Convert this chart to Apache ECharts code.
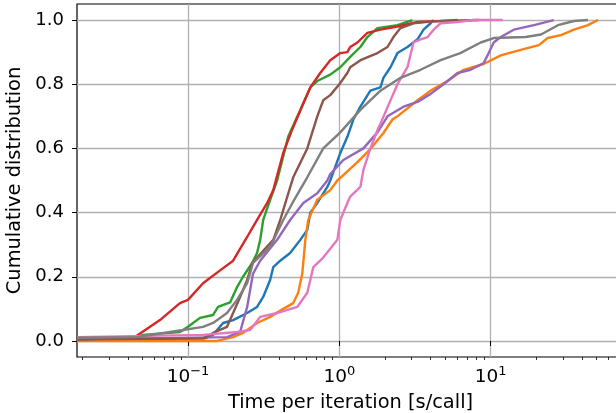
<!DOCTYPE html>
<html>
<head>
<meta charset="utf-8">
<script src="https://cdn.jsdelivr.net/npm/echarts@6/dist/echarts.min.js"></script>
<style>html,body{margin:0;padding:0;background:#fff;overflow:hidden;}#c{width:616px;height:413px;}</style>
</head>
<body>
<div id="c"></div>
<script>
// ---- data (x in s/call, y = cumulative fraction) ----
const seriesNames = ['blue', 'orange', 'green', 'red', 'purple', 'brown', 'pink', 'gray'];
const colors = ['#1f77b4', '#ff7f0e', '#2ca02c', '#d62728', '#9467bd', '#8c564b', '#e377c2', '#7f7f7f'];

const blueData = [[0.0185,0.005],[0.13,0.008],[0.1465,0.019],[0.1706,0.056],[0.1987,0.065],[0.246,0.087],[0.286,0.106],[0.314,0.137],[0.349,0.19],[0.366,0.23],[0.407,0.25],[0.473,0.274],[0.552,0.315],[0.614,0.346],[0.643,0.4],[0.715,0.43],[0.833,0.48],[0.871,0.5],[1.015,0.586],[1.13,0.636],[1.238,0.69],[1.377,0.73],[1.604,0.78],[1.869,0.79],[1.955,0.82],[2.177,0.853],[2.421,0.897],[2.82,0.916],[3.285,0.94],[3.6,0.97],[4.01,0.99],[4.2,1.0]];
const orangeData = [[0.0185,0.0],[0.1556,0.0],[0.1987,0.012],[0.231,0.025],[0.286,0.056],[0.349,0.075],[0.426,0.1],[0.496,0.118],[0.535,0.15],[0.569,0.21],[0.596,0.315],[0.623,0.377],[0.715,0.44],[0.871,0.47],[0.97,0.5],[1.063,0.517],[1.316,0.557],[1.604,0.598],[1.955,0.648],[2.244,0.69],[2.421,0.7],[3.285,0.75],[4.01,0.78],[5.19,0.81],[6.63,0.845],[8.99,0.863],[11.65,0.89],[15.8,0.907],[20.8,0.922],[23.8,0.944],[29.1,0.953],[35.5,0.97],[43.9,0.984],[51.2,1.0]];
const greenData = [[0.0185,0.005],[0.0459,0.01],[0.0504,0.019],[0.0885,0.028],[0.1,0.044],[0.12,0.072],[0.1465,0.081],[0.158,0.106],[0.1897,0.12],[0.211,0.168],[0.231,0.2],[0.2655,0.243],[0.286,0.274],[0.3,0.315],[0.314,0.377],[0.349,0.44],[0.388,0.5],[0.459,0.636],[0.552,0.72],[0.643,0.79],[0.715,0.81],[0.871,0.83],[1.015,0.853],[1.18,0.885],[1.377,0.916],[1.532,0.947],[1.786,0.975],[2.421,0.984],[3.04,1.0]];
const redData = [[0.0185,0.005],[0.0355,0.008],[0.0446,0.012],[0.0653,0.065],[0.0885,0.118],[0.1,0.128],[0.1257,0.18],[0.163,0.22],[0.1987,0.25],[0.246,0.324],[0.286,0.377],[0.334,0.43],[0.366,0.47],[0.426,0.586],[0.489,0.66],[0.578,0.74],[0.643,0.79],[0.748,0.835],[0.871,0.875],[1.015,0.897],[1.13,0.9],[1.18,0.916],[1.316,0.93],[1.532,0.96],[1.869,0.97],[2.421,0.98],[3.285,0.994],[4.01,0.996],[8.33,1.0]];
const purpleData = [[0.0185,0.005],[0.181,0.012],[0.221,0.028],[0.246,0.106],[0.269,0.21],[0.3,0.25],[0.388,0.315],[0.473,0.377],[0.578,0.43],[0.715,0.46],[0.833,0.5],[0.871,0.52],[1.063,0.564],[1.442,0.6],[1.786,0.65],[2.017,0.69],[2.08,0.7],[2.654,0.73],[3.285,0.745],[4.01,0.77],[4.88,0.8],[6.04,0.835],[7.37,0.845],[8.99,0.866],[9.7,0.897],[10.47,0.93],[11.65,0.947],[14.2,0.97],[19.3,0.984],[26.1,1.0]];
const brownData = [[0.0185,0.005],[0.1257,0.008],[0.1465,0.025],[0.181,0.044],[0.1987,0.087],[0.221,0.137],[0.246,0.19],[0.2655,0.243],[0.286,0.26],[0.366,0.315],[0.407,0.377],[0.453,0.45],[0.496,0.51],[0.614,0.6],[0.715,0.7],[0.783,0.75],[0.871,0.766],[1.0,0.8],[1.13,0.835],[1.18,0.853],[1.38,0.875],[1.786,0.897],[2.08,0.916],[2.278,0.947],[2.535,0.975],[3.09,0.99],[4.01,0.995],[6.04,1.0]];
const pinkData = [[0.0185,0.012],[0.1257,0.019],[0.211,0.028],[0.2575,0.034],[0.3,0.075],[0.388,0.087],[0.527,0.106],[0.614,0.15],[0.673,0.23],[0.783,0.26],[0.97,0.315],[1.015,0.377],[1.13,0.43],[1.18,0.45],[1.377,0.48],[1.442,0.533],[1.604,0.6],[1.786,0.657],[1.9,0.685],[2.421,0.8],[2.82,0.853],[3.09,0.93],[3.44,0.94],[3.83,0.947],[4.2,0.97],[4.67,0.99],[6.04,0.994],[7.72,1.0],[12.0,1.0]];
const grayData = [[0.0185,0.01],[0.0459,0.012],[0.076,0.028],[0.0927,0.034],[0.1257,0.044],[0.1465,0.056],[0.181,0.087],[0.211,0.128],[0.246,0.18],[0.269,0.243],[0.349,0.293],[0.426,0.377],[0.49,0.43],[0.614,0.51],[0.783,0.6],[1.015,0.65],[1.377,0.72],[1.869,0.78],[2.535,0.82],[3.44,0.845],[4.67,0.875],[6.3,0.897],[8.59,0.93],[10.47,0.944],[17,0.947],[21.5,0.955],[27.8,0.984],[35.5,0.997],[43.9,1.0]];

const allData = [blueData, orangeData, greenData, redData, purpleData, brownData, pinkData, grayData];

const xMajorTicks = [0.1, 1, 10];
const xMinorTicks = [0.02,0.03,0.04,0.05,0.06,0.07,0.08,0.09,0.2,0.3,0.4,0.5,0.6,0.7,0.8,0.9,2,3,4,5,6,7,8,9,20,30,40,50,60,70];
const yTicks = [0, 0.2, 0.4, 0.6, 0.8, 1.0];
const xTitle = 'Time per iteration [s/call]';
const yTitle = 'Cumulative distribution';

// ---- chart ----
const FONT = 'DejaVu Sans';
const XMIN = 0.01848, XMAX = 76;
const chart = echarts.init(document.getElementById('c'), null, {renderer: 'canvas'});
const option = {
  animation: false,
  backgroundColor: '#fff',
  grid: {left: 77, top: 4, width: 547, height: 353, containLabel: false, outerBoundsMode: 'none',
    show: true, borderColor: '#000', borderWidth: 1.2, backgroundColor: 'transparent'},
  xAxis: [{
    type: 'log', logBase: 10, min: XMIN, max: XMAX,
    name: xTitle, nameLocation: 'middle', nameGap: 36,
    nameTextStyle: {fontFamily: FONT, fontSize: 19.4, color: '#000'},
    axisLine: {show: false},
    axisTick: {show: true, customValues: xMajorTicks, length: 5, lineStyle: {color: '#000', width: 1}},
    axisLabel: {
      customValues: xMajorTicks, margin: 8, color: '#000',
      formatter: function (v) {
        const e = Math.round(Math.log10(v));
        return '{a|10}{b|' + (e < 0 ? '\u2212' + (-e) : e) + '}';
      },
      rich: {
        a: {fontFamily: FONT, fontSize: 18.5, color: '#000', lineHeight: 22, verticalAlign: 'bottom'},
        b: {fontFamily: FONT, fontSize: 13, color: '#000', lineHeight: 13, verticalAlign: 'top'}
      }
    },
    splitLine: {show: true, lineStyle: {color: '#b0b0b0', width: 1.3}}
  }, {
    type: 'log', logBase: 10, min: XMIN, max: XMAX, position: 'bottom',
    axisLine: {show: false},
    axisTick: {show: true, customValues: xMinorTicks, length: 3, lineStyle: {color: '#000', width: 0.8}},
    axisLabel: {show: false},
    splitLine: {show: false}
  }],
  yAxis: {
    type: 'value', min: -0.05, max: 1.05,
    name: yTitle, nameLocation: 'middle', nameGap: 48,
    nameTextStyle: {fontFamily: FONT, fontSize: 19.4, color: '#000'},
    axisLine: {show: false},
    axisTick: {show: true, customValues: yTicks, length: 5, lineStyle: {color: '#000', width: 1}},
    axisLabel: {customValues: yTicks, margin: 13, fontFamily: FONT, fontSize: 18, color: '#000',
      formatter: v => v.toFixed(1)},
    splitLine: {show: true, lineStyle: {color: '#b0b0b0', width: 1.3}}
  },
  series: allData.map((d, i) => ({
    name: seriesNames[i], type: 'line', data: d, xAxisIndex: 0,
    showSymbol: false, symbol: 'none', clip: true,
    lineStyle: {color: colors[i], width: 2.4}, itemStyle: {color: colors[i]}
  }))
};
chart.setOption(option);
</script>
</body>
</html>
